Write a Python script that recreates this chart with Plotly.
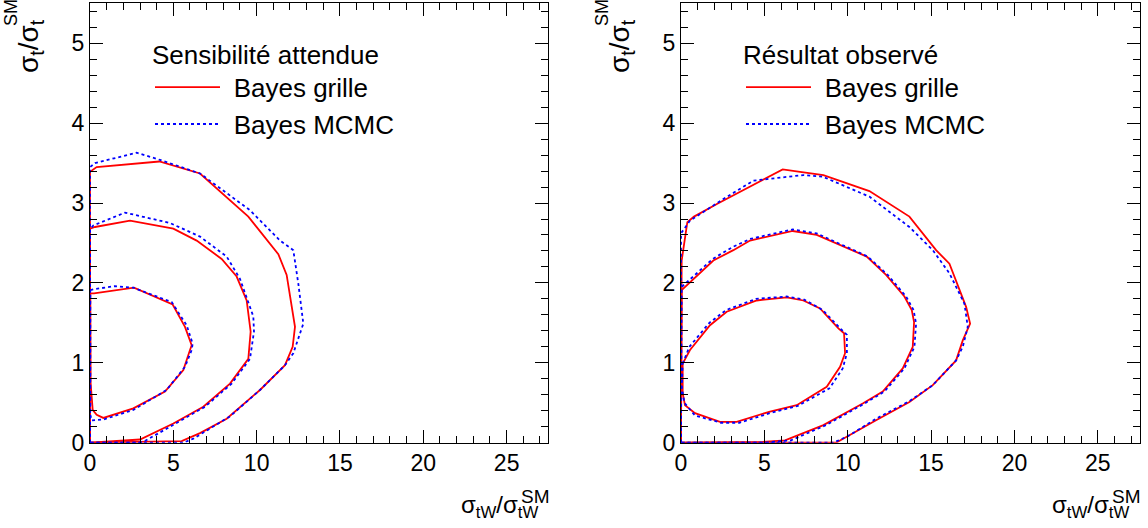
import plotly.graph_objects as go

# ---------------- data ----------------
# Left panel : "Sensibilité attendue"
L_grid_outer_x = [0, 0, 0.4, 4.16, 6.6, 9.5, 11.3, 11.8, 12.3, 12.16, 11.7, 10.2, 8.2, 6.6, 5.5, 0]
L_grid_outer_y = [0, 3.39, 3.45, 3.52, 3.37, 2.83, 2.36, 2.10, 1.45, 1.2, 0.97, 0.66, 0.30, 0.12, 0.02, 0]
L_grid_mid_x = [0, 0, 0.3, 2.4, 5.0, 6.4, 7.9, 8.8, 9.4, 9.64, 9.5, 8.4, 6.8, 5.0, 3.0, 0.6, 0]
L_grid_mid_y = [0, 2.68, 2.70, 2.78, 2.68, 2.53, 2.30, 2.08, 1.78, 1.39, 1.05, 0.74, 0.45, 0.24, 0.04, 0.01, 0]
L_grid_in_x = [0.02, 0.24, 2.64, 4.96, 5.7, 6.1, 6.0, 5.6, 4.5, 2.6, 0.8, 0.4, 0.16, 0.04, 0.02]
L_grid_in_y = [1.87, 1.87, 1.94, 1.73, 1.45, 1.22, 1.16, 0.91, 0.64, 0.43, 0.31, 0.35, 0.41, 0.74, 1.87]

L_mcmc_outer_x = [0, 0, 0.3, 2.8, 4.2, 6.6, 9.6, 11.4, 12.2, 12.5, 12.8, 12.2, 11.7, 10.2, 8.4, 6.2, 5.6, 0]
L_mcmc_outer_y = [0, 3.45, 3.5, 3.63, 3.54, 3.37, 2.91, 2.53, 2.41, 1.99, 1.49, 1.12, 0.97, 0.66, 0.33, 0.05, 0, 0]
L_mcmc_mid_x = [0, 0, 0.2, 2.1, 4.8, 6.6, 8.2, 9.0, 9.8, 9.84, 9.6, 8.5, 6.9, 5.0, 3.2, 2.9, 0]
L_mcmc_mid_y = [0, 2.67, 2.72, 2.88, 2.75, 2.58, 2.33, 2.05, 1.58, 1.39, 1.05, 0.74, 0.45, 0.22, 0.01, 0, 0]
L_mcmc_in_x = [0.02, 0.2, 1.5, 2.6, 4.9, 5.8, 6.16, 6.1, 5.7, 4.6, 2.6, 0.8, 0.1, 0.02, 0.02]
L_mcmc_in_y = [1.91, 1.92, 1.96, 1.94, 1.76, 1.47, 1.24, 1.16, 0.95, 0.66, 0.41, 0.29, 0.28, 0.35, 1.91]

# Right panel : "Résultat observé"
R_grid_outer_x = [0, 0.04, 0.38, 0.78, 2.18, 6.1, 7.14, 8.54, 11.3, 13.7, 15.3, 16.1, 17.1, 17.34, 16.9, 16.5, 15.1, 13.7, 11.7, 9.74, 9.3, 0]
R_grid_outer_y = [0, 2.28, 2.76, 2.83, 2.99, 3.42, 3.39, 3.35, 3.15, 2.83, 2.41, 2.24, 1.70, 1.49, 1.28, 1.03, 0.72, 0.51, 0.28, 0.05, 0, 0]
R_grid_mid_x = [0, 0.04, 1.94, 3.14, 4.14, 6.7, 8.14, 11.14, 12.3, 13.4, 13.84, 13.98, 13.9, 13.3, 12.1, 10.9, 8.54, 6.24, 4.9, 0]
R_grid_mid_y = [0, 1.91, 2.28, 2.41, 2.53, 2.65, 2.60, 2.33, 2.10, 1.83, 1.66, 1.51, 1.20, 0.93, 0.64, 0.49, 0.22, 0.03, 0.01, 0]
R_grid_in_x = [0.1, 0.54, 1.74, 2.74, 4.54, 6.34, 7.34, 8.34, 9.44, 9.78, 9.84, 9.54, 8.74, 6.94, 5.34, 3.34, 2.34, 0.84, 0.24, 0.1, 0.1]
R_grid_in_y = [0.99, 1.16, 1.47, 1.64, 1.78, 1.82, 1.78, 1.68, 1.43, 1.37, 1.12, 0.95, 0.70, 0.47, 0.39, 0.26, 0.26, 0.37, 0.47, 0.62, 0.99]

R_mcmc_outer_x = [0, 0, 0.54, 2.54, 4.34, 7.34, 8.5, 11.3, 13.7, 15.1, 16.1, 17.0, 17.2, 16.9, 16.5, 15.1, 13.7, 11.7, 10.0, 9.14, 0]
R_mcmc_outer_y = [0, 2.62, 2.78, 3.05, 3.28, 3.35, 3.33, 3.08, 2.70, 2.41, 2.12, 1.74, 1.45, 1.20, 1.03, 0.72, 0.52, 0.30, 0.08, 0, 0]
R_mcmc_mid_x = [0, 0.04, 1.9, 3.1, 4.14, 6.7, 8.14, 11.2, 12.4, 13.5, 13.95, 14.1, 14.0, 13.4, 12.2, 11.0, 8.7, 6.6, 5.0, 0]
R_mcmc_mid_y = [0, 1.95, 2.3, 2.45, 2.55, 2.67, 2.62, 2.33, 2.10, 1.83, 1.66, 1.49, 1.20, 0.93, 0.64, 0.49, 0.22, 0.03, 0.0, 0]
R_mcmc_in_x = [0.1, 0.5, 1.7, 2.7, 4.5, 6.34, 7.4, 8.5, 9.6, 9.95, 9.95, 9.7, 8.9, 7.0, 5.34, 3.5, 2.4, 0.84, 0.2, 0.05, 0.1]
R_mcmc_in_y = [0.99, 1.2, 1.5, 1.66, 1.8, 1.83, 1.79, 1.66, 1.42, 1.35, 1.12, 0.93, 0.68, 0.46, 0.37, 0.25, 0.25, 0.34, 0.5, 0.7, 0.99]

legend_titles = ["Sensibilité attendue", "Résultat observé"]
series_names = ["Bayes grille", "Bayes MCMC"]
x_range = [0, 27.5]
y_range = [0, 5.5]

# ---------------- figure ----------------
W, H = 1148, 528
FONT = "Liberation Sans, Arial, Helvetica, sans-serif"
RED = "#ff0000"
BLUE = "#0000ff"

fig = go.Figure()

panels = [
    ("x", "y", "legend",
     [(L_grid_outer_x, L_grid_outer_y), (L_grid_mid_x, L_grid_mid_y), (L_grid_in_x, L_grid_in_y)],
     [(L_mcmc_outer_x, L_mcmc_outer_y), (L_mcmc_mid_x, L_mcmc_mid_y), (L_mcmc_in_x, L_mcmc_in_y)]),
    ("x2", "y2", "legend2",
     [(R_grid_outer_x, R_grid_outer_y), (R_grid_mid_x, R_grid_mid_y), (R_grid_in_x, R_grid_in_y)],
     [(R_mcmc_outer_x, R_mcmc_outer_y), (R_mcmc_mid_x, R_mcmc_mid_y), (R_mcmc_in_x, R_mcmc_in_y)]),
]

for xa, ya, lg, grid, mcmc in panels:
    for i, (cx, cy) in enumerate(grid):
        fig.add_trace(go.Scatter(x=cx, y=cy, mode="lines", xaxis=xa, yaxis=ya,
                                 line=dict(color=RED, width=1.8),
                                 name="\u2004" + series_names[0], legend=lg,
                                 showlegend=(i == 0), hoverinfo="skip"))
    for i, (cx, cy) in enumerate(mcmc):
        fig.add_trace(go.Scatter(x=cx, y=cy, mode="lines", xaxis=xa, yaxis=ya,
                                 line=dict(color=BLUE, width=1.8, dash="3px,3px"),
                                 name="\u2004" + series_names[1], legend=lg,
                                 showlegend=(i == 0), hoverinfo="skip"))

def px2x(p):
    return p / W

def py2y(p):
    return 1 - p / H

ydom = [py2y(442.7), py2y(3.3)]
axis_common = dict(
    showgrid=False, zeroline=False, showline=True, linecolor="black", automargin=False,
    linewidth=1, mirror="allticks", ticks="inside", ticklen=13, tickwidth=1, tickcolor="black",
    tickfont=dict(family=FONT, size=23, color="black"),
)
xa_common = dict(axis_common, range=x_range, tick0=0, dtick=5,
                 minor=dict(dtick=1, ticks="inside", ticklen=7, tickcolor="black", showgrid=False))
ya_common = dict(axis_common, range=y_range, tick0=0, dtick=1,
                 minor=dict(dtick=0.2, ticks="inside", ticklen=7, tickcolor="black", showgrid=False))

fig.update_layout(
    width=W, height=H, margin=dict(l=0, r=0, t=0, b=0, autoexpand=False),
    paper_bgcolor="white", plot_bgcolor="white",
    font=dict(family=FONT, size=22, color="black"),
    xaxis=dict(xa_common, domain=[px2x(90), px2x(548.3)], anchor="y"),
    yaxis=dict(ya_common, domain=ydom, anchor="x"),
    xaxis2=dict(xa_common, domain=[px2x(681), px2x(1139.5)], anchor="y2"),
    yaxis2=dict(ya_common, domain=ydom, anchor="x2"),
)

for lg, title, lx in [("legend", legend_titles[0], 150), ("legend2", legend_titles[1], 741)]:
    fig.update_layout({lg: dict(
        x=px2x(lx), y=py2y(30), xanchor="left", yanchor="top",
        title=dict(text=title, font=dict(family=FONT, size=26, color="black")),
        font=dict(family=FONT, size=26, color="black"),
        bgcolor="rgba(0,0,0,0)", borderwidth=0, itemwidth=65,
        tracegroupgap=0,
    )})

# axis titles (ROOT style, stacked super/subscripts)
for x0 in [90, 681]:
    # x title
    fig.add_annotation(xref="paper", yref="paper", x=px2x(x0 + 450), y=py2y(506),
                       xanchor="right", yanchor="middle", showarrow=False,
                       text="σ<sub>tW</sub>/σ<sub>tW</sub>", font=dict(family=FONT, size=24))
    fig.add_annotation(xref="paper", yref="paper", x=px2x(x0 + 445), y=py2y(496),
                       xanchor="center", yanchor="middle", showarrow=False,
                       text="SM", font=dict(family=FONT, size=19))
    # y title
    fig.add_annotation(xref="paper", yref="paper", x=px2x(x0 - 60), y=py2y(46),
                       xanchor="center", yanchor="middle", showarrow=False, textangle=-90,
                       text="σ<sub>t</sub>/σ<sub>t</sub>", font=dict(family=FONT, size=28))
    fig.add_annotation(xref="paper", yref="paper", x=px2x(x0 - 79), y=py2y(13),
                       xanchor="center", yanchor="middle", showarrow=False, textangle=-90,
                       text="SM", font=dict(family=FONT, size=18))

# the page must start at the very top-left corner of the window
fig.write_html("out.html", config={"displayModeBar": False},
               post_script="document.body.style.margin='0px';")
